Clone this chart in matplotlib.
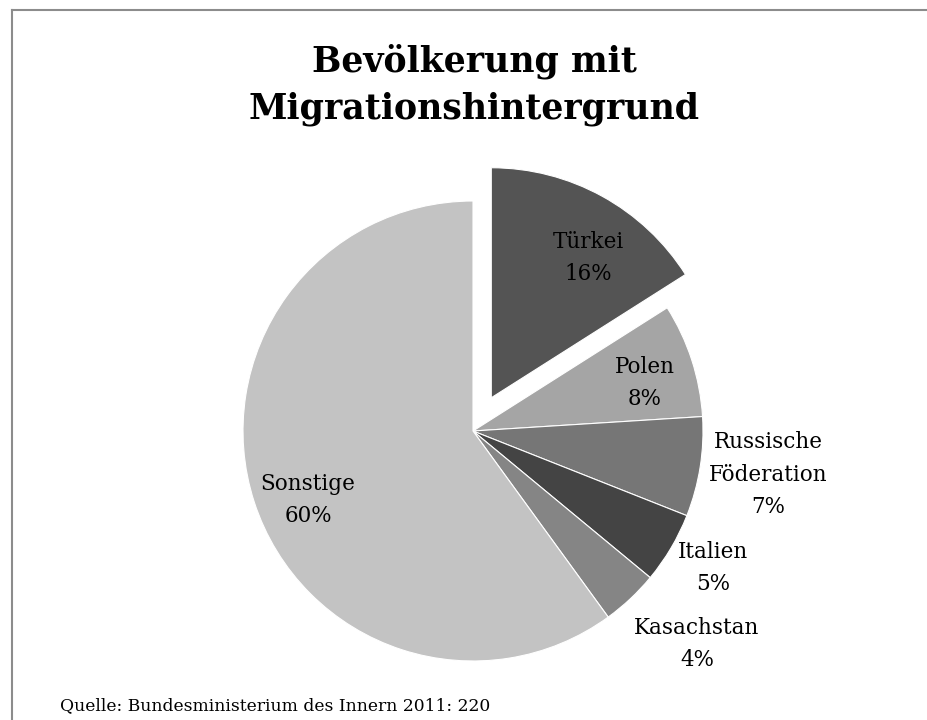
import matplotlib
matplotlib.use("Agg")
import matplotlib.pyplot as plt
from matplotlib.lines import Line2D

# Anteile der Bevölkerung mit Migrationshintergrund nach Herkunftsland (%)
laender = ["Türkei", "Polen", "Russische\nFöderation", "Italien", "Kasachstan", "Sonstige"]
anteile = [16, 8, 7, 5, 4, 60]

farben = ["#545454", "#a5a5a5", "#767676", "#444444", "#858585", "#c3c3c3"]
explode = [0.165, 0, 0, 0, 0, 0]
# label anchor points in pie units (radius = 1)
label_pos = [(0.50, 0.752), (0.748, 0.209), (1.283, -0.191),
             (1.043, -0.596), (0.974, -0.926), (-0.717, -0.30)]

W, H = 927, 720
fig = plt.figure(figsize=(W / 100, H / 100), dpi=100)
fig.patch.set_facecolor("white")

# axes sized so that one data unit = 230 px, pie centre at (473, 431)
ax = fig.add_axes([59 / W, 13 / H, 828 / W, 575 / H])
wedges, _ = ax.pie(anteile, colors=farben, explode=explode, startangle=90,
                   counterclock=False, radius=1,
                   wedgeprops=dict(edgecolor="white", linewidth=0.8))
ax.set_xlim(-1.8, 1.8)
ax.set_ylim(-1.2, 1.3)
ax.set_aspect("auto")
ax.axis("off")

for name, val, (x, y) in zip(laender, anteile, label_pos):
    ax.text(x, y, f"{name}\n{val}%", ha="center", va="center",
            fontsize=15.5, family="DejaVu Serif", linespacing=1.62, color="black")

fig.text(474 / W, 1 - 85 / H, "Bevölkerung mit\nMigrationshintergrund",
         ha="center", va="center", fontsize=25, fontweight="bold",
         family="DejaVu Serif", linespacing=1.45)

fig.text(60 / W, 1 - 706 / H, "Quelle: Bundesministerium des Innern 2011: 220",
         ha="left", va="center", fontsize=12.3, family="DejaVu Serif")

# chart frame (top and left edges)
frame = dict(color="#8c8c8c", linewidth=1.5, transform=fig.transFigure)
fig.add_artist(Line2D([12 / W, 1], [1 - 10 / H, 1 - 10 / H], **frame))
fig.add_artist(Line2D([12 / W, 12 / W], [0, 1 - 10 / H], **frame))

fig.savefig("out.png", dpi=100)
